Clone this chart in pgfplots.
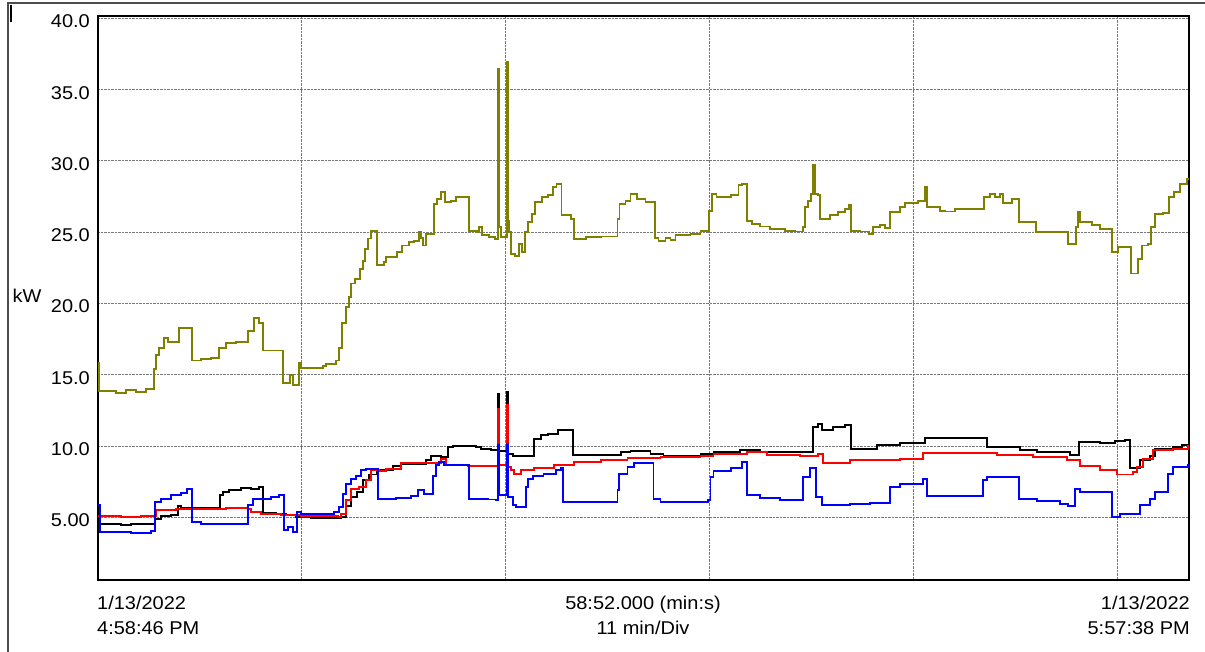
\documentclass[border=0pt]{standalone}
\usepackage{fontspec}
\setmainfont{Liberation Sans}[FakeStretch=1.08]
\usepackage{pgfplots}
\pgfplotsset{compat=1.18}
\definecolor{olivec}{RGB}{128,128,0}
\definecolor{gridc}{RGB}{120,120,120}

\pgfplotstableread{
t v
0.00 15.8
0.05 13.84
0.97 13.75
1.51 13.9
2.05 13.8
2.59 14.0
3.02 15.4
3.13 16.36
3.29 16.9
3.56 17.55
3.77 17.3
4.37 18.25
5.07 16.0
5.55 16.1
6.09 16.15
6.52 16.9
6.90 17.2
7.44 17.3
8.09 18.1
8.41 19.0
8.68 18.6
8.90 16.7
9.97 14.4
10.35 15.0
10.51 14.25
10.84 15.8
10.94 15.45
12.13 15.6
12.29 15.75
12.83 16.0
12.99 16.9
13.15 18.6
13.37 19.75
13.53 20.45
13.64 21.4
13.85 21.7
14.12 22.45
14.29 23.0
14.39 23.85
14.56 24.56
14.72 25.1
15.04 22.7
15.42 22.9
15.53 23.25
16.12 23.6
16.39 24.07
16.77 24.3
17.04 24.4
17.31 25.0
17.41 24.6
17.52 24.07
17.68 24.9
18.11 27.0
18.28 27.35
18.49 27.8
18.71 27.1
19.03 27.2
19.30 27.45
20.00 25.1
20.43 25.0
20.54 25.35
20.70 24.8
21.08 24.65
21.40 24.55
21.56 36.47
21.62 25.35
21.73 24.65
22.05 36.93
22.10 25.8
22.16 25.0
22.26 23.5
22.48 23.3
22.70 24.2
22.86 23.6
23.02 25.0
23.18 25.7
23.40 26.3
23.56 27.1
23.94 27.45
24.26 27.6
24.53 28.15
24.74 28.4
25.01 26.2
25.50 25.95
25.66 24.55
26.31 24.65
27.12 24.7
28.03 25.95
28.14 27.0
28.46 27.2
28.73 27.7
29.06 27.35
29.54 27.1
30.03 24.6
30.24 24.4
30.62 24.6
30.89 24.45
31.16 24.8
31.97 24.9
32.51 25.1
32.99 26.5
33.15 27.7
33.37 27.45
34.13 27.6
34.56 28.3
34.77 28.4
35.04 25.8
35.31 25.6
35.74 25.4
36.28 25.25
37.09 25.1
37.63 25.05
38.06 25.35
38.17 26.76
38.33 27.2
38.49 27.7
38.60 29.7
38.71 27.7
38.87 27.6
38.98 25.95
39.52 26.2
39.95 26.4
40.32 26.65
40.54 26.9
40.65 25.1
41.13 25.05
41.62 24.9
41.83 25.35
42.21 25.5
42.48 25.3
42.75 26.4
43.29 26.76
43.56 27.04
44.26 27.2
44.64 28.15
44.75 26.76
45.45 26.5
45.72 26.45
46.25 26.65
47.82 27.45
48.14 27.7
48.41 27.45
48.68 27.7
48.84 27.04
49.33 27.35
49.71 25.7
50.62 25.0
52.35 24.2
52.78 25.35
52.89 26.4
52.99 25.7
53.64 25.5
54.07 25.25
54.72 23.6
55.04 23.95
55.74 22.1
56.12 23.15
56.34 24.07
56.66 24.2
56.82 25.35
57.04 26.3
57.47 26.35
57.79 27.45
58.06 27.8
58.38 28.4
58.76 28.75
58.87 28.75
}\olive

\pgfplotstableread{
t v
0.00 4.51
1.24 4.45
1.78 4.5
3.07 4.9
3.40 5.07
3.94 5.19
4.31 5.77
4.47 5.68
6.58 6.54
6.74 6.8
7.06 6.94
7.71 7.06
8.25 7.0
8.68 7.1
8.90 5.3
9.60 5.21
10.14 5.14
10.67 5.02
11.48 4.98
13.10 5.02
13.37 5.77
13.64 6.42
13.96 6.77
14.29 7.64
14.61 8.0
15.04 8.34
15.90 8.58
16.33 8.72
17.68 9.0
17.95 9.3
18.49 9.2
18.87 9.93
19.14 9.98
20.38 9.9
20.65 9.82
21.19 9.75
21.56 13.67
21.62 9.65
22.05 13.79
22.10 9.42
22.37 9.3
22.97 9.28
23.51 10.52
23.88 10.75
24.26 10.85
24.80 11.1
25.12 11.15
25.61 9.35
27.12 9.4
28.20 9.58
28.73 9.65
29.81 9.47
30.51 9.28
32.51 9.47
33.21 9.58
34.66 9.75
35.74 9.6
36.98 9.55
38.60 11.33
38.87 11.57
39.08 11.1
39.68 11.33
40.32 11.5
40.65 9.82
42.05 10.05
43.29 10.21
44.64 10.59
47.98 9.93
49.76 9.7
50.68 9.6
52.45 9.35
52.94 10.28
54.07 10.2
54.88 10.35
55.42 10.45
55.69 8.48
56.23 9.0
56.77 9.3
57.04 9.82
58.01 9.9
58.49 10.05
58.87 10.17
}\blackd

\pgfplotstableread{
t v
0.00 5.09
1.24 5.05
2.32 5.12
3.13 5.49
4.20 5.61
5.55 5.58
6.90 5.62
8.09 5.61
8.25 5.37
8.79 5.26
9.87 5.14
10.94 5.07
12.94 5.02
13.10 5.26
13.37 6.19
13.64 7.0
14.07 7.13
14.45 7.6
14.72 8.3
15.15 8.25
15.53 8.41
16.33 8.81
18.49 9.1
18.76 8.7
19.95 8.6
21.19 8.6
21.56 12.62
21.62 8.65
22.05 12.85
22.10 8.5
22.26 8.3
22.43 8.06
22.80 8.34
23.51 8.48
24.58 8.65
25.66 8.88
27.12 9.0
28.57 9.19
30.35 9.2
32.51 9.28
33.21 9.47
35.04 9.58
36.12 9.35
37.90 9.28
38.87 9.47
39.14 8.81
40.59 9.05
43.29 9.12
44.53 9.51
48.52 9.35
50.46 9.25
52.29 9.0
52.99 8.58
54.07 8.34
54.99 8.0
55.85 8.18
56.07 8.5
56.39 9.12
56.93 9.75
58.01 9.8
58.82 9.98
58.87 9.98
}\redd

\pgfplotstableread{
t v
0.00 5.84
0.11 3.97
1.78 3.9
2.86 4.04
3.07 6.07
3.40 6.31
3.94 6.54
4.47 6.7
4.80 7.0
5.07 4.67
5.55 4.56
8.09 5.84
8.36 6.31
9.33 6.42
9.76 6.54
10.03 4.09
10.24 4.32
10.51 3.97
10.73 5.37
10.94 5.21
12.72 5.37
12.99 5.72
13.21 6.66
13.37 7.36
13.64 7.71
13.91 7.88
14.18 8.3
14.45 8.41
15.09 6.31
16.07 6.38
16.87 6.5
17.25 6.89
17.57 6.66
18.06 7.88
18.22 8.65
18.38 8.88
18.65 8.65
20.00 6.31
21.02 6.25
21.46 6.19
21.56 10.05
21.62 6.54
22.05 10.17
22.10 6.42
22.37 5.84
22.53 5.72
23.07 7.13
23.18 7.71
23.45 7.88
24.04 8.06
24.69 8.3
24.96 8.48
25.07 6.07
28.03 6.89
28.09 8.06
28.57 8.53
28.90 8.81
29.97 6.31
30.35 6.07
32.89 6.2
33.05 7.83
33.21 8.25
34.13 8.48
34.77 8.88
35.04 6.54
35.74 6.35
36.82 6.24
38.06 7.83
38.44 8.48
38.76 6.42
39.08 5.84
40.59 5.96
41.67 6.0
42.75 7.13
43.29 7.31
44.53 7.71
44.75 6.47
46.52 6.5
47.76 7.6
47.98 7.83
49.71 6.31
50.68 6.15
51.92 5.95
52.35 5.8
52.72 7.0
52.99 6.77
54.72 5.02
55.15 5.26
56.23 5.84
56.77 6.31
57.04 6.77
57.74 8.06
58.01 8.53
58.82 8.65
58.87 8.65
}\blued

\begin{document}
\begin{tikzpicture}[x=1pt,y=1pt,font=\fontsize{18.5}{21}\selectfont]
\draw[gray!60!black, line width=1.2pt] (8,0) -- (8,649) -- (1205,649);
\draw[black, line width=1.2pt] (11,630) -- (11,647);
\begin{axis}[
  at={(98pt,72pt)}, anchor=south west,
  scale only axis, width=1091pt, height=564pt,
  xmin=0, xmax=58.867, ymin=0.6, ymax=40.17,
  xtick={11,22,33,44,55}, xticklabels={},
  ytick={5,10,15,20,25,30,35,40},
  yticklabels={5.00,10.0,15.0,20.0,25.0,30.0,35.0,40.0},
  yticklabel style={inner sep=0pt, xshift=-8pt, yshift=-3pt, font=\fontsize{18.5}{21}\selectfont},
  grid=major,
  major grid style={densely dotted, gridc, line width=0.9pt},
  major tick length=0pt,
  axis line style={line width=2.2pt, black},
  clip=true,
]
\addplot[const plot, olivec, line width=1.9pt] table[x=t,y=v] {\olive};
\addplot[const plot, black, line width=1.9pt] table[x=t,y=v] {\blackd};
\addplot[const plot, red, line width=1.9pt] table[x=t,y=v] {\redd};
\addplot[const plot, blue, line width=1.9pt] table[x=t,y=v] {\blued};
\end{axis}
\node at (27,356) {kW};
\node[anchor=base west, inner sep=0pt] at (97,42) {1/13/2022};
\node[anchor=base west, inner sep=0pt] at (97,17) {4:58:46 PM};
\node[anchor=base, inner sep=0pt] at (643,42) {58:52.000 (min:s)};
\node[anchor=base, inner sep=0pt] at (643,17) {11 min/Div};
\node[anchor=base east, inner sep=0pt] at (1190,42) {1/13/2022};
\node[anchor=base east, inner sep=0pt] at (1190,17) {5:57:38 PM};
\pgfresetboundingbox
\path[use as bounding box] (0,0) rectangle (1205,652);
\end{tikzpicture}
\end{document}
